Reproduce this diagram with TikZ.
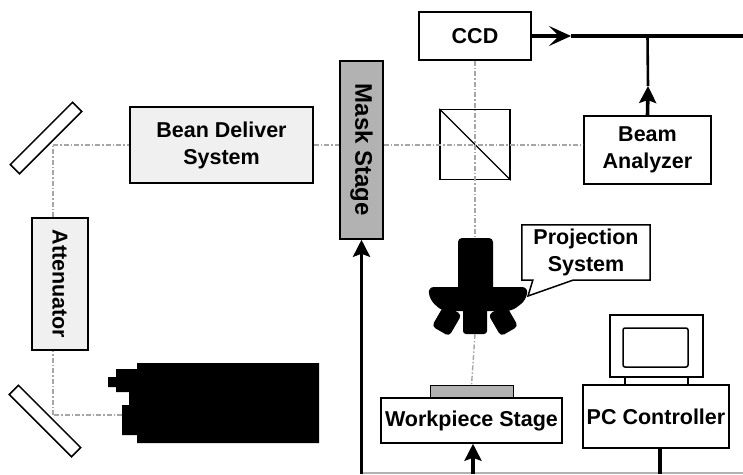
\documentclass[tikz,border=0pt]{standalone}
\usepackage{fontspec}
\setmainfont{Liberation Sans}
\usetikzlibrary{arrows.meta,calc}
\begin{document}
\begin{tikzpicture}[x=1pt,y=-1pt,
  lbl/.style={font=\fontsize{21.5}{27}\selectfont\bfseries},
  box/.style={draw, line width=1.5pt, fill=white, align=center, inner sep=0pt, lbl},
  beam/.style={draw=gray!70, line width=1.4pt, dash pattern=on 5pt off 2pt on 1.5pt off 2pt},
  sig/.style={line width=3.6pt},
  tipfill/.style={-{Stealth[length=17pt,width=17pt,inset=3pt]}},
  tipopen/.style={-{Stealth[length=22pt,width=20pt,inset=10pt]}},
  mirror/.style={draw, line width=1.5pt, fill=white, minimum width=88pt, minimum height=13pt, inner sep=0pt},
  plate/.style={draw, line width=1pt, fill=gray!60}
]
\useasboundingbox (0,0) rectangle (743,474);

% ---- optical components ----
\node[mirror, rotate=45] (m1) at (46,138) {};
\node[mirror, rotate=-45] (m2) at (45,421) {};
\coordinate (p1) at (53,145);
\coordinate (p2) at (53,415);

\node[box, fill=gray!12, minimum width=183pt, minimum height=76pt] (bds) at (221.5,145) {Bean Deliver\\System};
\node[box, fill=gray!12, rotate=-90, minimum width=132pt, minimum height=56pt] (att) at (60,284) {Attenuator};
\node[box, fill=gray!60, rotate=-90, minimum width=178pt, minimum height=43pt,
      font=\fontsize{24}{28}\selectfont\bfseries] (mask) at (361.5,150) {Mask Stage};
\node[box, minimum width=112pt, minimum height=48pt] (ccd) at (475,36) {CCD};
\node[draw, line width=1.5pt, minimum size=70pt, inner sep=0pt] (cube) at (475,144.5) {};
\draw[line width=1.2pt] (cube.north west) -- (cube.south east);
\node[box, minimum width=127pt, minimum height=68pt] (ana) at (647.5,150) {Beam\\Analyzer};

% laser head
\fill (137,363) -- (319,363) -- (319,443) -- (137,443) -- (137,435) -- (122,435)
      -- (122,405) -- (129,405) -- (129,392) -- (116,392) -- (116,387) -- (108,387)
      -- (108,377) -- (116,377) -- (116,369) -- (137,369) -- cycle;
\coordinate (lz) at (122,415);

% projection optics
\fill[rounded corners=4pt] (458,238) rectangle (493,292);
\fill[rounded corners=6pt] (428,287) -- (528,287) -- (526,300) -- (512,311)
      -- (442,311) -- (430,300) -- cycle;
\fill[rounded corners=4pt, rotate around={-30:(447,320)}] (437,308) rectangle (457,333);
\fill[rounded corners=4pt, rotate around={30:(503,320)}] (493,308) rectangle (513,333);
\fill[rounded corners=3pt] (463,305) rectangle (487,334);
\coordinate (objtop) at (475,238);
\coordinate (objbot) at (475,334);

\node[lbl, align=center, inner sep=0pt, minimum width=128pt, minimum height=55pt] (pjs) at (586,252.5) {Projection\\System};
\coordinate (ptr) at (528,296);
\draw[line width=1.5pt, line join=miter] (pjs.north west) -- (pjs.north east) -- (pjs.south east)
      -- ($(pjs.south west)+(51,0)$) -- (ptr) -- ($(pjs.south west)+(11,0)$)
      -- (pjs.south west) -- cycle;

% workpiece and stage
\node[plate, minimum width=83pt, minimum height=12pt, inner sep=0pt] (wp) at (471.5,391.5) {};
\node[box, minimum width=181pt, minimum height=45pt] (wps) at (471.5,420.5) {Workpiece Stage};

% computer
\draw[line width=1.5pt] (610,315) rectangle (703,377);
\draw[line width=1.5pt, rounded corners=2pt] (623,328) rectangle (688,367);
\draw[line width=1.5pt] (625,377) rectangle (688,385);
\node[box, minimum width=146pt, minimum height=63pt] (pc) at (656,416.5) {PC Controller};

% ---- laser beam path ----
\draw[beam] (lz) -- (p2);
\draw[beam] (p2) -- (p2 |- att.east);
\draw[beam] (p1 |- att.west) -- (p1);
\draw[beam] (p1) -- (bds.west |- p1);
\draw[beam] (bds.east |- p1) -- (mask.south |- p1);
\draw[beam] (mask.north |- p1) -- (ana.west |- p1);
\draw[beam] (ccd.south) -- (objtop);
\draw[beam] (objbot) -- (wp.north);

% ---- signal lines ----
\coordinate (busR) at (743,36);
\coordinate (ccdTip) at (571,36);
\draw[sig, tipopen] (ccd.east) -- (ccdTip);
\draw[sig] (ccdTip) -- (busR);
\coordinate (anaTip) at (648,86);
\draw[sig, tipfill] (ana.north) -- (anaTip);
\draw[line width=2.6pt] (anaTip) -- (ana.north |- busR);

\coordinate (bl) at (361.5,474);
\coordinate (br) at (743,474);
\draw[gray!60, line width=1.2pt] ($(bl)+(0,-1)$) -- ($(br)+(0,-1)$);
\draw[sig, tipfill] (bl) -- (mask.east);
\draw[sig, tipfill] (wps.south |- bl) ++(1.5,0) -- ($(wps.south)+(1.5,0)$);
\draw[sig] ($(pc.south)+(4,0)$) -- ($(pc.south |- bl)+(4,0)$);
\end{tikzpicture}
\end{document}
